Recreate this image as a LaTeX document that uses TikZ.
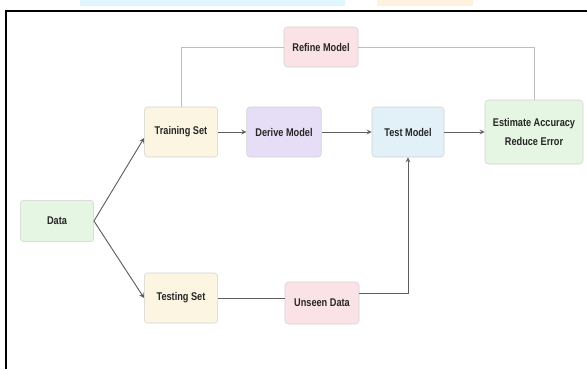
\documentclass[tikz,border=0pt]{standalone}
\usepackage{fontspec}
\newfontfamily\boxfont{Liberation Sans}[FakeStretch=0.82]
\definecolor{lineGrey}{HTML}{5E5E5E}
\definecolor{softGrey}{HTML}{BDBDBD}
\definecolor{edgeGrey}{HTML}{D2D2D2}
\definecolor{fillYellow}{HTML}{FCF5E2}
\definecolor{fillGreen}{HTML}{E5F6E2}
\definecolor{fillPink}{HTML}{FAE2E6}
\definecolor{fillLilac}{HTML}{E6DEF6}
\definecolor{fillBlue}{HTML}{E2F0F8}
\tikzset{
  box/.style={draw=edgeGrey, rounded corners=2.5pt, align=center,
    font=\boxfont\bfseries\fontsize{8.4}{14}\selectfont, text=black!85},
  flow/.style={draw=lineGrey, line width=0.7pt, -stealth},
  link/.style={draw=lineGrey, line width=0.7pt},
  back/.style={draw=softGrey, line width=0.7pt}
}
\begin{document}
\begin{tikzpicture}[x=0.75pt, y=-0.75pt]
  \useasboundingbox (0,0) rectangle (587,369);

  % remnants of the page above
  \fill[cyan!12] (80,0) rectangle (345,6);
  \fill[orange!12] (377,0) rectangle (473,6);

  % frame
  \draw[line width=1.5pt] (6,369) -- (6,11) -- (587,11);

  % nodes
  \node[box, fill=fillGreen, minimum width=55pt, minimum height=31pt] (data) at (57,221) {Data};
  \node[box, fill=fillYellow, minimum width=55pt, minimum height=37.5pt] (train) at (181,132) {Training Set};
  \node[box, fill=fillYellow, minimum width=55pt, minimum height=37.5pt] (testing) at (181,298) {Testing Set};
  \node[box, fill=fillPink, minimum width=55.5pt, minimum height=30pt] (refine) at (321,47) {Refine Model};
  \node[box, fill=fillLilac, minimum width=56pt, minimum height=37.5pt] (derive) at (284,132) {Derive Model};
  \node[box, fill=fillBlue, minimum width=54pt, minimum height=37.5pt] (test) at (408,132) {Test Model};
  \node[box, fill=fillGreen, minimum width=73.5pt, minimum height=48pt] (est) at (534,132) {Estimate Accuracy\\Reduce Error};
  \node[box, fill=fillPink, minimum width=55.5pt, minimum height=31.5pt] (unseen) at (322,303) {Unseen Data};

  % connectors
  \draw[flow] (data.east) -- ([yshift=-4.5pt]train.west);
  \draw[flow] (data.east) -- (testing.west);
  \draw[flow] (train) -- (derive);
  \draw[flow] (derive) -- (test);
  \draw[flow] (test) -- (est);
  \draw[back] (train.north) |- (refine.west);
  \draw[back] (est.north) |- (refine.east);
  \draw[link] (testing.east) -- (unseen.west |- testing.east);
  \draw[flow] ([yshift=7pt]unseen.east) -| (test.south);
\end{tikzpicture}
\end{document}
